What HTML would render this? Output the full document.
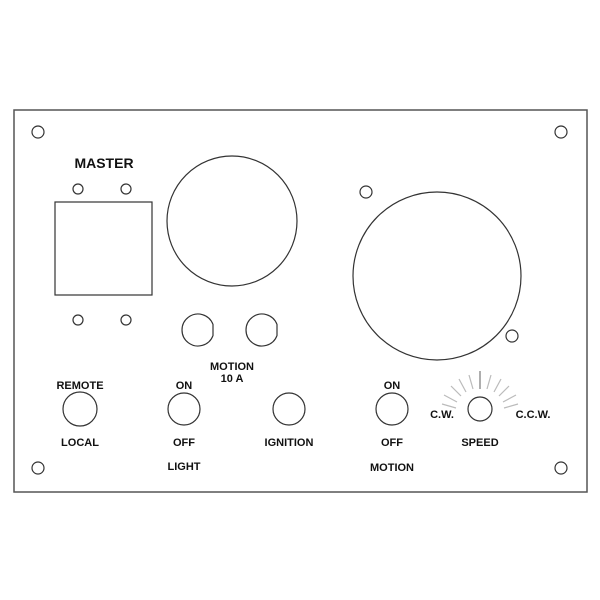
<!DOCTYPE html>
<html><head><style>body{margin:0;background:#fff}svg{display:block}</style></head><body>
<svg width="600" height="600" viewBox="0 0 600 600" xmlns="http://www.w3.org/2000/svg">
<g fill="none" stroke="#333" stroke-width="1.2">
<rect x="14" y="110" width="573" height="382" stroke="#555" stroke-width="1.5"/>
<circle cx="38" cy="132" r="6"/><circle cx="561" cy="132" r="6"/>
<circle cx="38" cy="468" r="6"/><circle cx="561" cy="468" r="6"/>
<circle cx="78" cy="189" r="5"/><circle cx="126" cy="189" r="5"/>
<circle cx="78" cy="320" r="5"/><circle cx="126" cy="320" r="5"/>
<rect x="55" y="202" width="97" height="93"/>
<circle cx="232" cy="221" r="65"/>
<circle cx="437" cy="276" r="84"/>
<circle cx="366" cy="192" r="6"/><circle cx="512" cy="336" r="6"/>
<path d="M213,324.4 A16,16 0 1,0 213,335.6 Z"/>
<path d="M277,324.4 A16,16 0 1,0 277,335.6 Z"/>
<circle cx="80" cy="409" r="17"/>
<circle cx="184" cy="409" r="16"/>
<circle cx="289" cy="409" r="16"/>
<circle cx="392" cy="409" r="16"/>
<circle cx="480" cy="409" r="12"/>
</g>
<g stroke="#bbb" stroke-width="1.2">
<line x1="480" y1="389" x2="480" y2="371" stroke="#777"/>
<line x1="473" y1="389" x2="469" y2="375"/>
<line x1="466" y1="392" x2="459" y2="379"/>
<line x1="461" y1="396" x2="451" y2="386"/>
<line x1="457" y1="402" x2="444" y2="395"/>
<line x1="456" y1="408" x2="442" y2="404"/>
<line x1="487" y1="389" x2="491" y2="375"/>
<line x1="494" y1="392" x2="501" y2="379"/>
<line x1="499" y1="396" x2="509" y2="386"/>
<line x1="503" y1="402" x2="516" y2="395"/>
<line x1="504" y1="408" x2="518" y2="404"/>
</g>
<g font-family="Liberation Sans, sans-serif" font-weight="bold" font-size="11" fill="#111" text-anchor="middle">
<text x="104" y="168" font-size="14">MASTER</text>
<text x="232" y="370">MOTION</text>
<text x="232" y="382">10 A</text>
<text x="80" y="389">REMOTE</text>
<text x="80" y="446">LOCAL</text>
<text x="184" y="389">ON</text>
<text x="184" y="446">OFF</text>
<text x="184" y="470">LIGHT</text>
<text x="289" y="446">IGNITION</text>
<text x="392" y="389">ON</text>
<text x="392" y="446">OFF</text>
<text x="392" y="471">MOTION</text>
<text x="442" y="418">C.W.</text>
<text x="533" y="418">C.C.W.</text>
<text x="480" y="446">SPEED</text>
</g>
</svg>
</body></html>
